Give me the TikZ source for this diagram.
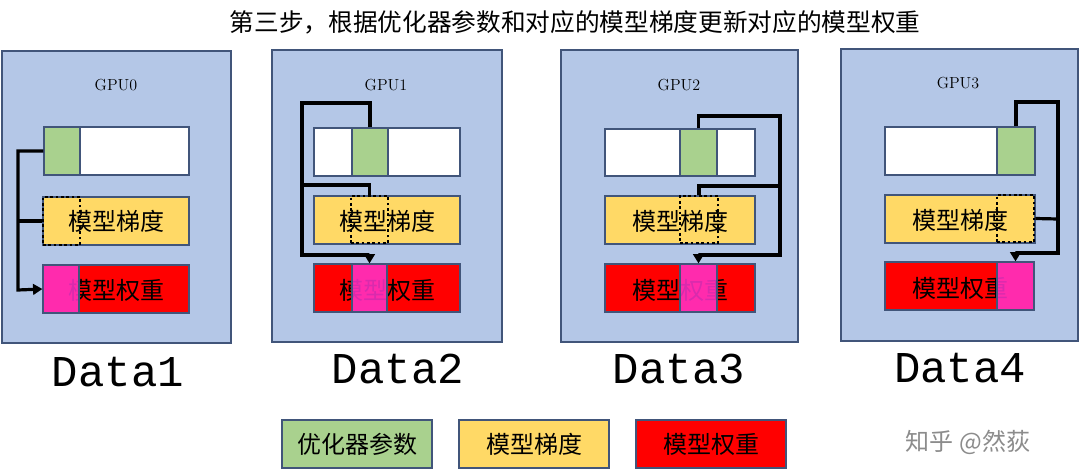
\documentclass[tikz,border=0pt]{standalone}
\usepackage{fontspec}
\newfontfamily\cjk{Noto Sans CJK SC}
\newfontfamily\monof{Liberation Mono}
\usetikzlibrary{fit,arrows.meta}
\definecolor{gpubg}{HTML}{B4C7E7}
\definecolor{edge}{HTML}{41557A}
\definecolor{gr}{HTML}{A9D18E}
\definecolor{ye}{HTML}{FFD966}
\definecolor{rd}{HTML}{FF0000}
\definecolor{mg}{HTML}{FF33CC}
\tikzset{
  bx/.style={fit={#1},inner sep=0pt,draw=edge,line width=0.9pt},
  gpubox/.style={bx={#1},fill=gpubg},
  dsh/.style={fit={#1},inner sep=0pt,draw=black,line width=2pt,dotted},
  lab/.style={font=\cjk\fontsize{18}{18}\selectfont},
  wire/.style={line width=2.4pt,draw=black},
  arr/.style={wire,-{Triangle[length=7pt,width=8pt]}},
  dtxt/.style={font=\monof\fontsize{33}{33}\selectfont},
  gtxt/.style={font=\fontsize{12}{12}\selectfont}
}
\begin{document}
\begin{tikzpicture}[x=0.75pt,y=-0.75pt]
\useasboundingbox (0,0) rectangle (1080,470);
\fill[white] (0,0) rectangle (1080,470);
\node[font=\cjk\fontsize{18.5}{18.5}\selectfont] (title) at (575,22) {第三步，根据优化器参数和对应的模型梯度更新对应的模型权重};
% GPU0
\node[gpubox={(2,51)(231,343)}] (g0) {};
\node[gtxt] (g0l) at (116,85) {GPU0};
\node[bx={(44,127)(189,175)},fill=white] (p0) {};
\node[bx={(44,127)(80,175)},fill=gr] (p0s) {};
\node[bx={(43,197)(189,245)},fill=ye] (y0) {};
\node[lab] (y0t) at (116,221) {模型梯度};
\node[dsh={(43,197)(80,245)}] (y0s) {};
\node[bx={(43,265)(189,313)},fill=rd] (r0) {};
\node[lab] (r0t) at (116,290) {模型权重};
\node[bx={(43,265)(79,313)},fill=mg,fill opacity=0.85] (r0s) {};
\draw[arr] (p0s.west) -| (18,290) -- (r0s.west);
\draw[wire] (y0s.west) -- (18,221);
\node[dtxt] (d0) at (118,372) {Data1};
% GPU1
\node[gpubox={(272,50)(502,342)}] (g1) {};
\node[gtxt] (g1l) at (386,85) {GPU1};
\node[bx={(314,128)(460,176)},fill=white] (p1) {};
\node[bx={(352,128)(388,176)},fill=gr] (p1s) {};
\node[bx={(314,196)(460,244)},fill=ye] (y1) {};
\node[lab] (y1t) at (387,221) {模型梯度};
\node[dsh={(351,196)(388,243)}] (y1s) {};
\node[bx={(314,264)(460,312)},fill=rd] (r1) {};
\node[lab] (r1t) at (387,290) {模型权重};
\node[bx={(352,264)(387,312)},fill=mg,fill opacity=0.85] (r1s) {};
\draw[arr] (p1s.north) |- (302,103) |- (r1s.north |- 0,255) -- (r1s.north);
\draw[wire] (y1s.north) |- (302,185);
\node[dtxt] (d1) at (398,369) {Data2};
% GPU2
\node[gpubox={(561,50)(798,342)}] (g2) {};
\node[gtxt] (g2l) at (679,85) {GPU2};
\node[bx={(605,129)(755,176)},fill=white] (p2) {};
\node[bx={(680,129)(717,176)},fill=gr] (p2s) {};
\node[bx={(605,196)(755,244)},fill=ye] (y2) {};
\node[lab] (y2t) at (680,221) {模型梯度};
\node[dsh={(680,196)(718,243)}] (y2s) {};
\node[bx={(605,264)(755,312)},fill=rd] (r2) {};
\node[lab] (r2t) at (680,290) {模型权重};
\node[bx={(680,264)(717,312)},fill=mg,fill opacity=0.85] (r2s) {};
\draw[arr] (p2s.north) |- (780,116) |- (r2s.north |- 0,255) -- (r2s.north);
\draw[wire] (y2s.north) |- (780,186);
\node[dtxt] (d2) at (679,369) {Data3};
% GPU3
\node[gpubox={(841,49)(1078,341)}] (g3) {};
\node[gtxt] (g3l) at (958,83) {GPU3};
\node[bx={(885,127)(1035,175)},fill=white] (p3) {};
\node[bx={(997,127)(1035,175)},fill=gr] (p3s) {};
\node[bx={(885,195)(1035,243)},fill=ye] (y3) {};
\node[lab] (y3t) at (960,220) {模型梯度};
\node[dsh={(997,195)(1034,242)}] (y3s) {};
\node[bx={(885,262)(1034,310)},fill=rd] (r3) {};
\node[lab] (r3t) at (960,288) {模型权重};
\node[bx={(997,262)(1034,310)},fill=mg,fill opacity=0.85] (r3s) {};
\draw[arr] (p3s.north) |- (1058,102) |- (r3s.north |- 0,253) -- (r3s.north);
\draw[wire] (y3s.east) -- (1058,219);
\node[dtxt] (d3) at (960,368) {Data4};
% legend
\node[bx={(282,420)(432,468)},fill=gr] (lg) {};
\node[lab] at (lg) {优化器参数};
\node[bx={(459,420)(609,468)},fill=ye] (ly) {};
\node[lab] at (ly) {模型梯度};
\node[bx={(636,420)(786,468)},fill=rd] (lr) {};
\node[lab] at (lr) {模型权重};
\node[font=\cjk\fontsize{18}{18}\selectfont,text=black!45] (wm) at (968,442) {知乎 @然荻};
\end{tikzpicture}
\end{document}
